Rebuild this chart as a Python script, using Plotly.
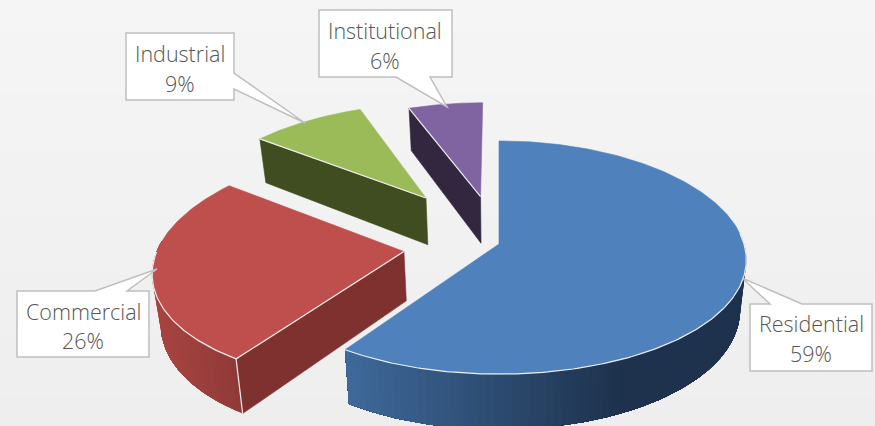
import math
import plotly.graph_objects as go

categories = ["Residential", "Commercial", "Industrial", "Institutional"]
values = [59.4, 25.9, 8.9, 5.8]
explode = [0.0, 0.39, 0.525, 0.44]
top_colors = ["#4f81bd", "#be4f4c", "#9bbb59", "#8064a2"]
side_colors = ["#1d3049", "#7f312f", "#3f4d20", "#32273f"]
wall_left = ["#3f6a9c", "#a84441", "#3f4d20", "#32273f"]
wall_right = ["#1e324d", "#8f3a38", "#3f4d20", "#32273f"]
wall_span = [(345, 625), (155, 240), (0, 1), (0, 1)]

W, H = 875, 426
CX, CY, A, B, KX, KY, DEPTH, SHRINK = 499.0, 244.0, 245.0, 115.0, 0.137, 0.116, 49.0, 0.025


def project(u, v, z=0.0):
    x = CX + A * u / (1 + KX * v)
    dy = 1 + KY * v
    y = CY + (-B * v + DEPTH * z) / dy
    x = CX + (x - CX) * (1 - SHRINK * z)
    return x, y


def mix(c1, c2, t):
    t = max(0.0, min(1.0, t))
    a = [int(c1[i:i + 2], 16) for i in (1, 3, 5)]
    b = [int(c2[i:i + 2], 16) for i in (1, 3, 5)]
    return "rgb(%d,%d,%d)" % tuple(round(p + (q - p) * t) for p, q in zip(a, b))


def arc_uv(a0, a1, ex, ey, n):
    return [(ex + math.sin(math.radians(a0 + (a1 - a0) * i / n)),
             ey + math.cos(math.radians(a0 + (a1 - a0) * i / n))) for i in range(n + 1)]


def poly(fig, pts, color, line=None, width=0.6):
    xs = [p[0] for p in pts] + [pts[0][0]]
    ys = [p[1] for p in pts] + [pts[0][1]]
    fig.add_trace(go.Scatter(x=xs, y=ys, mode="lines", fill="toself", fillcolor=color,
                             line=dict(color=line or color, width=width), hoverinfo="skip",
                             showlegend=False))


def stroke(fig, pts, color="#eeeeee", width=1.2):
    fig.add_trace(go.Scatter(x=[p[0] for p in pts], y=[p[1] for p in pts], mode="lines",
                             line=dict(color=color, width=width), hoverinfo="skip",
                             showlegend=False))


fig = go.Figure()
fig.add_trace(go.Heatmap(x=[0, W], y=[0, H], z=[[0, 0], [1, 1]], zsmooth="best", showscale=False,
                         colorscale=[[0, "#f5f5f5"], [1, "#eeeeee"]], hoverinfo="skip"))

total = sum(values)
starts, ang = [], 0.0
for v in values:
    starts.append(ang)
    ang += 360 * v / total

for i in [3, 2, 1, 0]:
    a0, a1 = starts[i], starts[i] + 360 * values[i] / total
    mid = math.radians((a0 + a1) / 2)
    ex, ey = explode[i] * math.sin(mid), explode[i] * math.cos(mid)
    arc = arc_uv(a0, a1, ex, ey, 240 if i == 0 else 120)

    # outer wall: each strip reaches to the end of the visible arc, so later strips overlap earlier ones
    lo, hi = wall_span[i]
    front = [p for p in arc if p[1] <= ey + 0.1]
    if i < 2:
        for j in range(0, len(front) - 1, 2):
            rest = front[j:]
            outline = [project(*p) for p in rest] + [project(*p, 1) for p in reversed(rest)]
            t = (hi - project(*front[j])[0]) / (hi - lo)
            poly(fig, outline, mix(wall_right[i], wall_left[i], t), width=0)

    # radial wall on the leading edge of each exploded slice
    if i > 0:
        poly(fig, [project(ex, ey), project(*arc[0]), project(*arc[0], 1), project(ex, ey, 1)],
             side_colors[i])

    top = [project(ex, ey)] + [project(*p) for p in arc]
    poly(fig, top, top_colors[i], line=top_colors[i])

    if i == 0:
        stroke(fig, [project(*p) for p in arc if p[1] < 0.1])
    elif i == 1:
        stroke(fig, [project(*p) for p in arc if p[1] < ey])
        stroke(fig, [project(*arc[0]), project(ex, ey)])
        stroke(fig, [project(*arc[0]), project(*arc[0], 1)])
    else:
        stroke(fig, [project(*arc[0]), project(ex, ey)])

# callouts
callouts = {
    "Residential": ((750, 304, 872, 371), [(770, 304), (742, 278), (802, 304)], (811, 323), (811, 353)),
    "Commercial": ((17, 291, 149, 357), [(95, 291), (157, 269), (127, 291)], (83, 311), (83, 340)),
    "Industrial": ((126, 33, 234, 100), [(234, 73), (305, 123), (234, 89)], (180, 53), (180, 83)),
    "Institutional": ((319, 10, 452, 77), [(396, 77), (447, 107), (430, 77)], (385, 30), (385, 60)),
}
shapes, notes = [], []
for name, v in zip(categories, values):
    (x0, y0, x1, y1), tip, p1, p2 = callouts[name]
    if name == "Residential" or name == "Commercial":
        pts = [(x0, y0), tip[0], tip[1], tip[2], (x1, y0), (x1, y1), (x0, y1)]
    elif name == "Industrial":
        pts = [(x0, y0), (x1, y0), tip[0], tip[1], tip[2], (x1, y1), (x0, y1)]
    else:
        pts = [(x0, y0), (x1, y0), (x1, y1), tip[2], tip[1], tip[0], (x0, y1)]
    path = "M" + " L".join(f"{a},{b}" for a, b in pts) + " Z"
    shapes.append(dict(type="path", path=path, fillcolor="white", xref="x", yref="y",
                       line=dict(color="#bfbfbf", width=1.5), layer="above"))
    for pos, txt in ((p1, name), (p2, f"{round(v)}%")):
        notes.append(dict(x=pos[0], y=pos[1], xref="x", yref="y", text=txt, showarrow=False,
                          font=dict(family="Open Sans", size=21.5, color="#555555", weight=300),
                          xanchor="center", yanchor="middle"))

fig.update_layout(width=W, height=H, margin=dict(l=0, r=0, t=0, b=0), autosize=False,
                  paper_bgcolor="#f2f2f2", plot_bgcolor="#f2f2f2", showlegend=False,
                  shapes=shapes, annotations=notes,
                  xaxis=dict(range=[0, W], visible=False, fixedrange=True),
                  yaxis=dict(range=[H, 0], visible=False, fixedrange=True))
fig.write_html("out.html", config=dict(displayModeBar=False),
               post_script="document.body.style.margin='0';document.documentElement.style.overflow='hidden';")
